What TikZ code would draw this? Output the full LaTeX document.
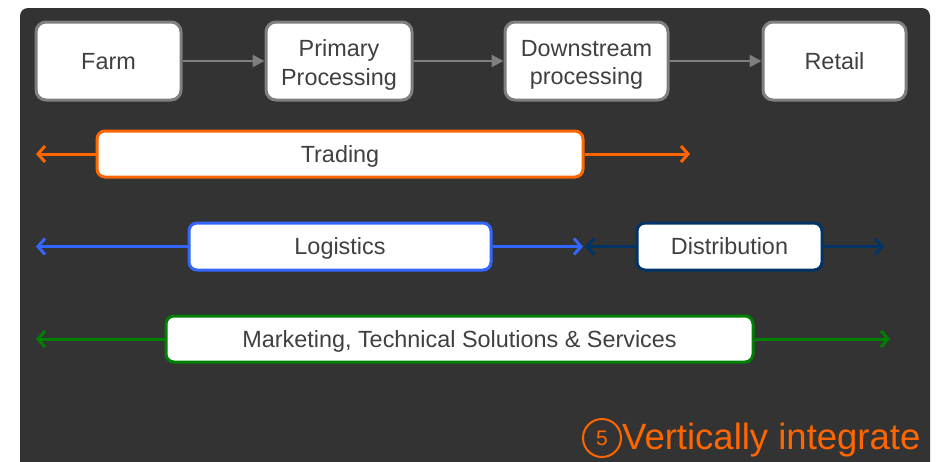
\documentclass[tikz,border=0pt]{standalone}
\usepackage{fontspec}
\setmainfont{Liberation Sans}
\usetikzlibrary{arrows.meta}
\definecolor{bgdark}{HTML}{333333}
\definecolor{boxgray}{HTML}{7F7F7F}
\definecolor{txt}{HTML}{404040}
\definecolor{orng}{HTML}{FF6600}
\definecolor{lblue}{HTML}{3366FF}
\definecolor{navy}{HTML}{003366}
\definecolor{grn}{HTML}{008000}
\tikzset{
  boxfont/.style={font=\fontsize{23.4}{28.3}\selectfont},
  stagebox/.style={draw=boxgray, line width=3pt, fill=white, rounded corners=10pt,
    minimum height=78pt, align=center, text=txt, boxfont, inner sep=0pt},
  oneline/.style={text height=16.8pt, text depth=0pt},
  twolinetext/.style={align=center, text=txt, boxfont, inner sep=0pt},
  bandbox/.style={line width=3pt, fill=white, rounded corners=8pt,
    minimum height=46pt, align=center, text=txt, boxfont, inner sep=0pt, oneline},
  flowarrow/.style={draw=boxgray, line width=2.5pt, -{Triangle[length=12pt,width=12pt]}},
  bandarrow/.style={line width=3pt, -{Straight Barb[length=7pt,width=16pt,line width=3pt]}},
}
\begin{document}
\begin{tikzpicture}[x=1pt,y=-1pt]
\useasboundingbox (0,0) rectangle (939,461);
\fill[white] (0,0) rectangle (939,461);
\fill[bgdark, rounded corners=8pt] (20,8) rectangle (930,480);

\node[stagebox, oneline, minimum width=145pt] (farm) at (108.5,61) {Farm};
\node[stagebox, minimum width=146pt] (prim) at (339,61) {};
\node[twolinetext, yshift=-4pt] (primtxt) at (prim.center) {Primary\\Processing};
\node[stagebox, minimum width=163pt] (down) at (586.5,61) {};
\node[twolinetext, yshift=-4pt] (downtxt) at (down.center) {Downstream\\processing};
\node[stagebox, oneline, minimum width=143pt] (ret) at (834.5,61) {Retail};

\draw[flowarrow] (farm.east) -- (prim.west);
\draw[flowarrow] (prim.east) -- (down.west);
\draw[flowarrow] (down.east) -- (ret.west);

\node[bandbox, draw=orng, minimum width=486pt] (trad) at (340,154) {Trading};
\coordinate (tl) at (36,154);
\coordinate (tr) at (690,154);
\draw[bandarrow, orng] (trad.west) -- (tl);
\draw[bandarrow, orng] (trad.east) -- (tr);

\node[bandbox, draw=lblue, minimum width=302pt, minimum height=47pt] (logi) at (340,246.5) {Logistics};
\coordinate (ll) at (36,246.5);
\coordinate (lr) at (583,246.5);
\draw[bandarrow, lblue] (logi.west) -- (ll);
\draw[bandarrow, lblue] (logi.east) -- (lr);

\node[bandbox, draw=navy, minimum width=185pt, minimum height=47pt] (dist) at (729.5,246.5) {Distribution};
\coordinate (dl) at (585,246.5);
\coordinate (dr) at (884,246.5);
\draw[bandarrow, navy] (dist.west) -- (dl);
\draw[bandarrow, navy] (dist.east) -- (dr);

\node[bandbox, draw=grn, minimum width=587pt] (mkt) at (459.5,339) {Marketing, Technical Solutions \& Services};
\coordinate (ml) at (36,339);
\coordinate (mr) at (890,339);
\draw[bandarrow, grn] (mkt.west) -- (ml);
\draw[bandarrow, grn] (mkt.east) -- (mr);

\node[draw=orng, line width=2pt, circle, minimum size=38pt, inner sep=0pt, text=orng,
  font=\fontsize{21}{21}\selectfont] (num) at (602,438) {5};
\node[anchor=west, text=orng, font=\fontsize{36.5}{37}\selectfont, inner sep=0pt] (vi) at (622,440) {Vertically integrate};
\end{tikzpicture}
\end{document}
